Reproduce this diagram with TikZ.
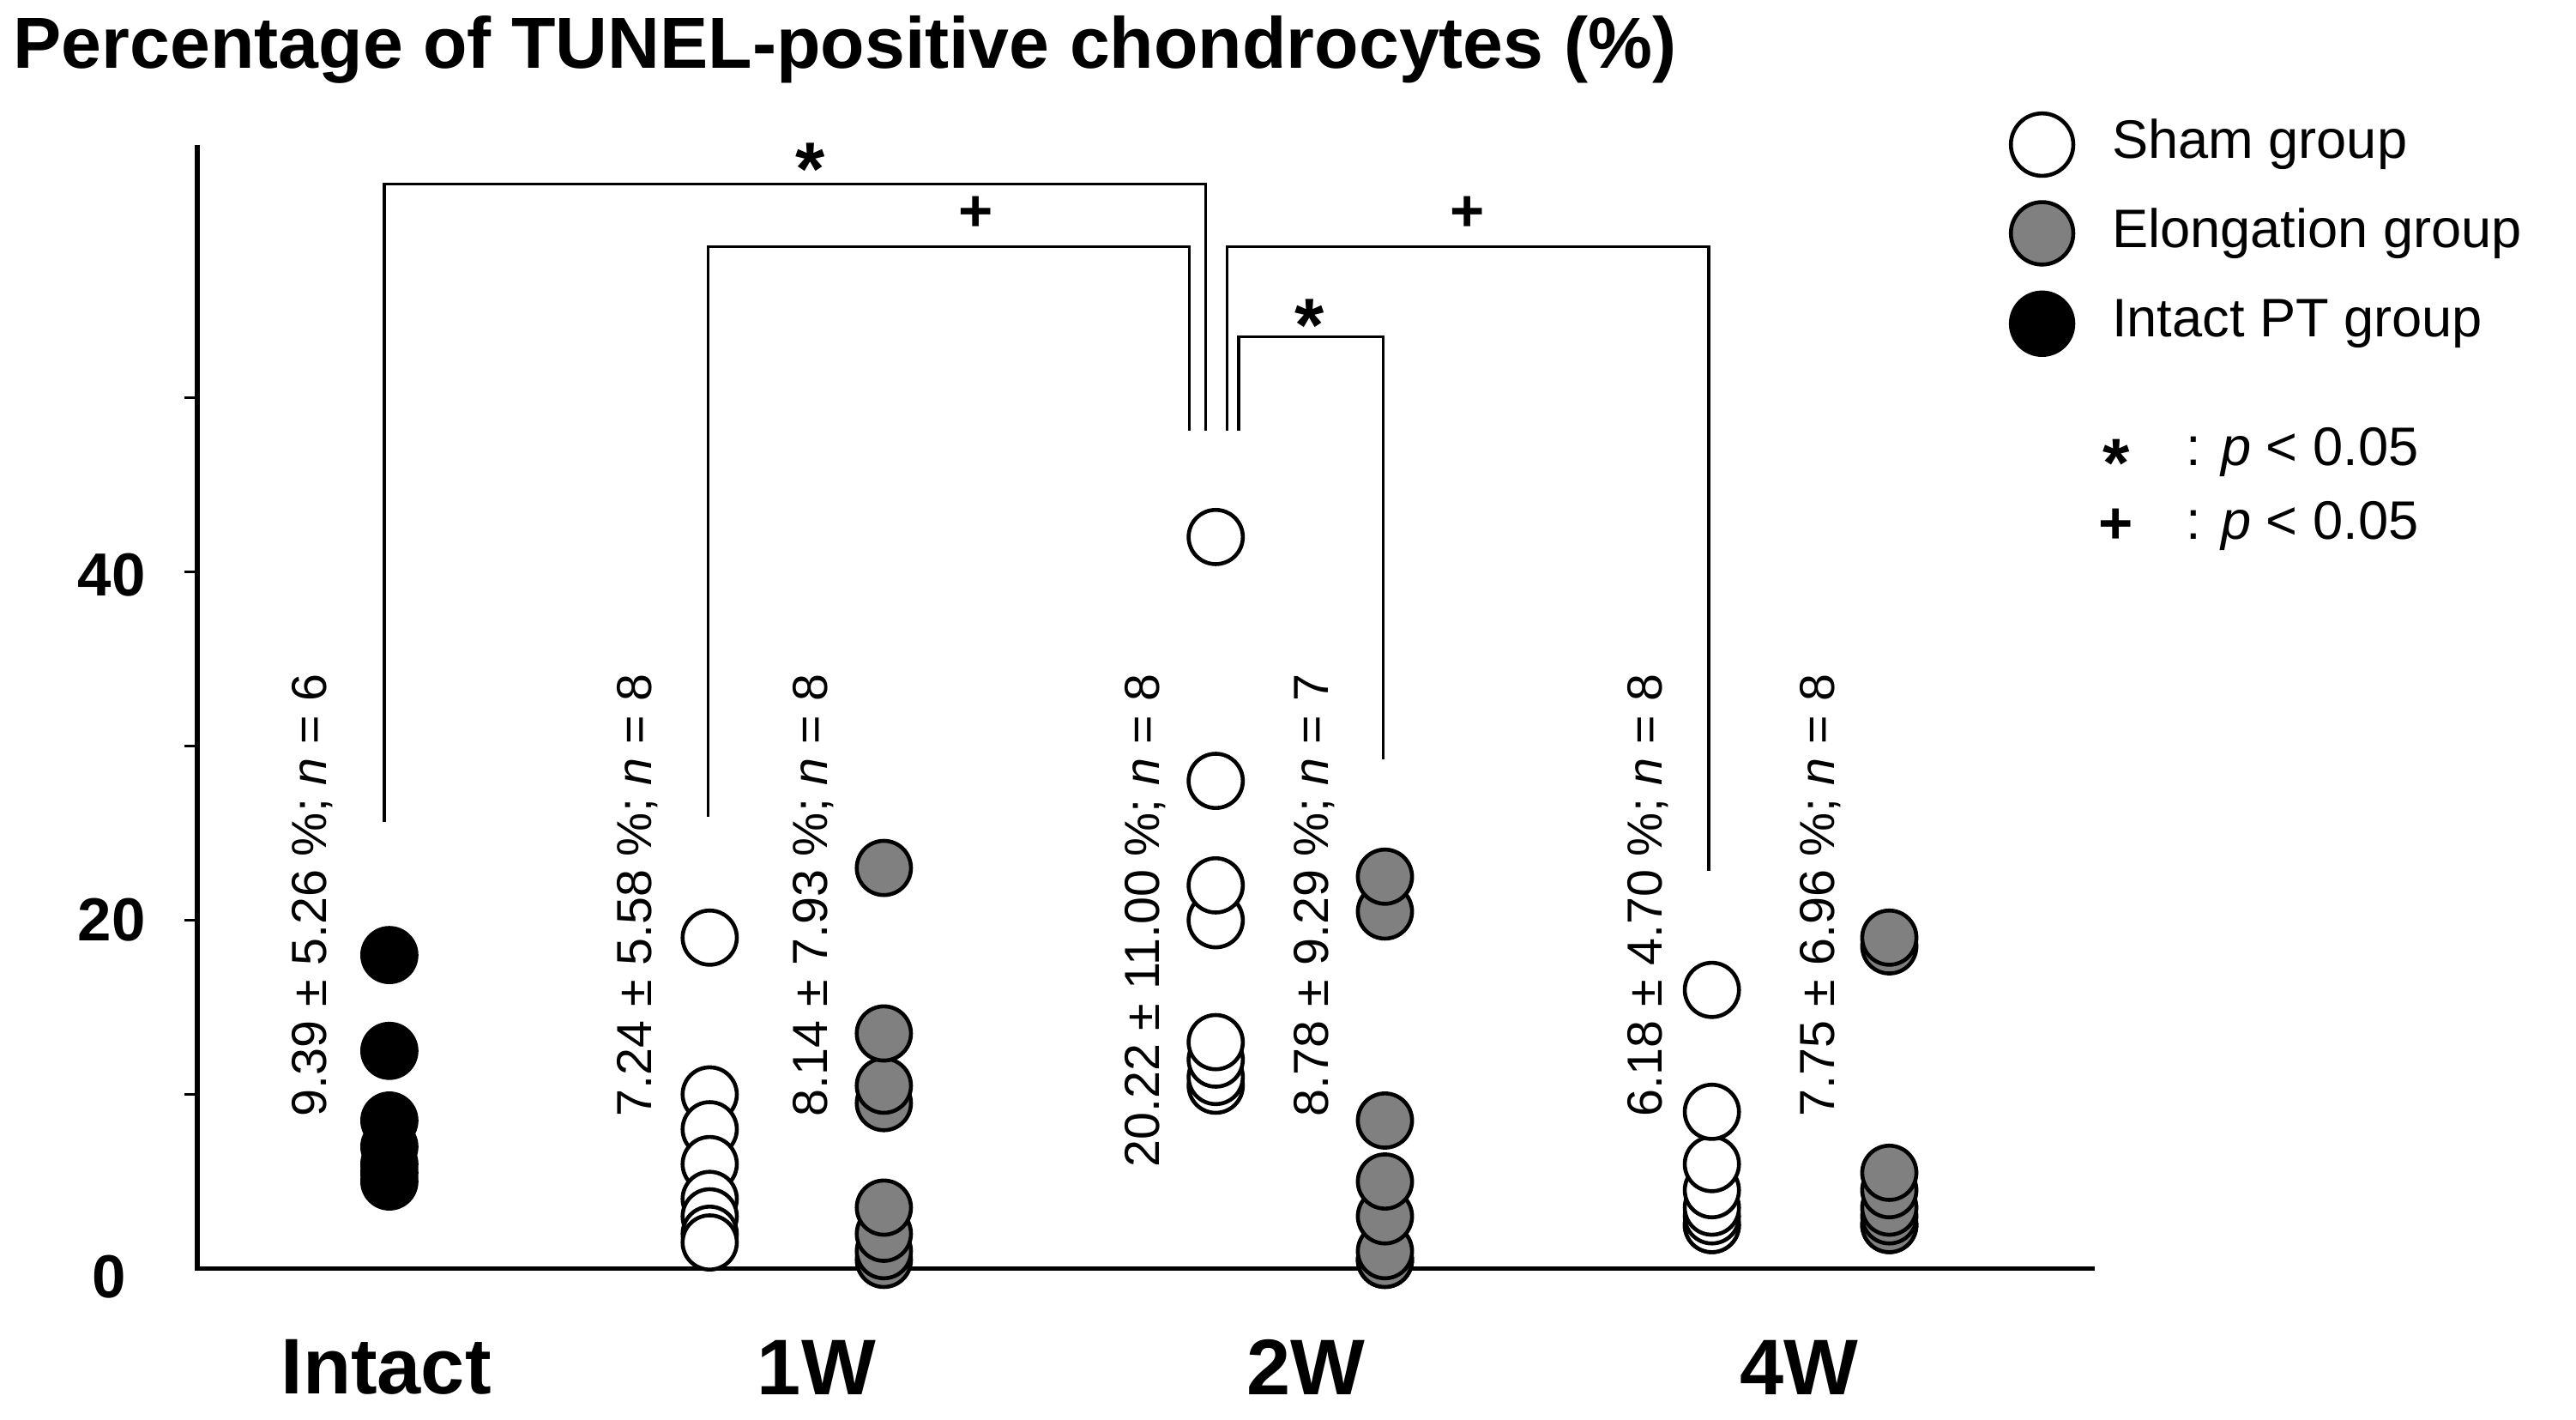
\documentclass[tikz,border=0pt]{standalone}
\usepackage{fontspec}
\setmainfont{Liberation Sans}
\begin{document}
\begin{tikzpicture}[x=1pt,y=-1pt,
 dot/.style={circle,draw=black,line width=2.4pt,minimum size=33pt,inner sep=0pt},
 sham/.style={dot,fill=white}, elo/.style={dot,fill=gray}, itc/.style={dot,fill=black},
 ln/.style={line width=1.8pt},
 stat/.style={rotate=90,anchor=east,font=\fontsize{30}{30}\selectfont,inner sep=0pt},
 cat/.style={font=\fontsize{48}{48}\selectfont\bfseries},
 tk/.style={font=\fontsize{37}{37}\selectfont\bfseries,anchor=east},
 lg/.style={font=\fontsize{33}{33}\selectfont,anchor=west}]
\useasboundingbox (0,0) rectangle (1568,864);
\node[anchor=west,font=\fontsize{44}{44}\selectfont\bfseries,inner sep=0pt] (title) at (8,30) {Percentage of TUNEL-positive chondrocytes (\%)};
% axes
\coordinate (o) at (120,772); \coordinate (top) at (120,88); \coordinate (xr) at (1275,772);
\draw[line width=3pt] (top) -- (o) -- (xr);
\foreach \v in {10,20,30,40,50} \draw[ln] (112,772-10.6*\v) -- (120,772-10.6*\v);
\node[tk] (t0) at (80,777) {0};
\node[tk] (t20) at (92,560) {20};
\node[tk] (t40) at (92,350) {40};
\node[cat] (c0) at (235,832) {Intact};
\node[cat] (c1) at (497,832) {1W};
\node[cat] (c2) at (795,832) {2W};
\node[cat] (c4) at (1095,832) {4W};
% dots
\foreach \v in {5,5.5,6,7,8.5,12.5,18} \node[itc] at (237,772-10.6*\v) {};
\foreach \v in {19,10,8,6,4,3,2,1.5} \node[sham] at (432,772-10.6*\v) {};
\foreach \v in {0.5,1,2,3.5,9.5,10.5,13.5,23} \node[elo] at (538,772-10.6*\v) {};
\foreach \v in {10.5,11,12,13,20,22,28,42} \node[sham] at (740,772-10.6*\v) {};
\foreach \v in {0.5,0.5,1,3,5,8.5,20.5,22.5} \node[elo] at (843,772-10.6*\v) {};
\foreach \v in {2.5,2.5,3,3.5,4.5,6,9,16} \node[sham] at (1042,772-10.6*\v) {};
\foreach \v in {2.5,2.5,3,3.5,4.5,5.5,18.5,19} \node[elo] at (1150,772-10.6*\v) {};
% stats
\node[stat] (s0) at (190,410) {9.39 ± 5.26 \%; \textit{n} = 6};
\node[stat] (s1) at (388,410) {7.24 ± 5.58 \%; \textit{n} = 8};
\node[stat] (s2) at (495,410) {8.14 ± 7.93 \%; \textit{n} = 8};
\node[stat] (s3) at (697,410) {20.22 ± 11.00 \%; \textit{n} = 8};
\node[stat] (s4) at (800,410) {8.78 ± 9.29 \%; \textit{n} = 7};
\node[stat] (s5) at (1003,410) {6.18 ± 4.70 \%; \textit{n} = 8};
\node[stat] (s6) at (1108,410) {7.75 ± 6.96 \%; \textit{n} = 8};
% brackets
\draw[ln] (234,500) |- (734,112) -- (734,262);
\draw[ln] (431,497) |- (724,150) -- (724,262);
\draw[ln] (747,262) |- (1040,150) -- (1040,530);
\draw[ln] (754,262) |- (842,205) -- (842,462);
\node[font=\fontsize{46}{46}\selectfont\bfseries] (a1) at (493,103) {*};
\node[font=\fontsize{36}{36}\selectfont\bfseries] (p1) at (594,130) {+};
\node[font=\fontsize{36}{36}\selectfont\bfseries] (p2) at (893,130) {+};
\node[font=\fontsize{46}{46}\selectfont\bfseries] (a2) at (797,198) {*};
% legend
\node[dot,fill=white,minimum size=38pt] (l1) at (1243,88) {};
\node[dot,fill=gray,minimum size=38pt] (l2) at (1243,142) {};
\node[dot,fill=black,minimum size=38pt] (l3) at (1243,197) {};
\node[lg] at (1282,88) {Sham group};
\node[lg] at (1282,142) {Elongation group};
\node[lg] at (1282,197) {Intact PT group};
\node[font=\fontsize{42}{42}\selectfont\bfseries] at (1288,282) {*};
\node[font=\fontsize{36}{36}\selectfont\bfseries] at (1288,320) {+};
\node[lg] at (1327,275) {: \textit{p} < 0.05};
\node[lg] at (1327,320) {: \textit{p} < 0.05};
\end{tikzpicture}
\end{document}
